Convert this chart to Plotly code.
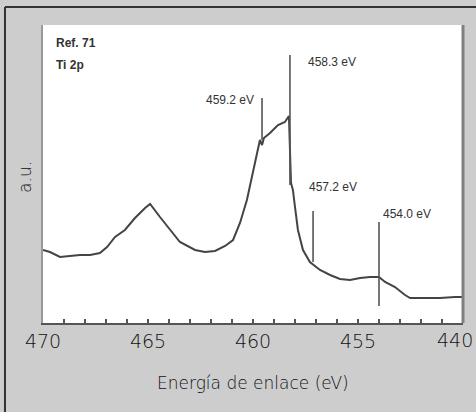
import plotly.graph_objects as go

# Spectrum (binding energy eV, intensity a.u.)
energy = [470.0, 469.67, 469.19, 468.71, 468.24, 467.76, 467.29, 466.95, 466.57, 466.10,
          465.62, 465.14, 464.90, 464.43, 463.95, 463.48, 462.76, 462.29, 461.81, 461.33,
          460.95, 460.62, 460.29, 460.00, 459.76, 459.67, 459.57, 459.48, 459.19, 458.81,
          458.48, 458.29, 458.19, 458.10, 458.00, 457.86, 457.62, 457.29, 456.81, 456.33,
          455.86, 455.38, 454.90, 454.43, 454.00, 453.71, 453.24, 452.76, 452.52, 452.05,
          451.10, 450.38, 450.0]
intensity = [73, 71, 66, 67, 68, 68, 70, 76, 86, 93,
             105, 115, 119, 106, 93, 81, 73, 71, 72, 77,
             83, 100, 123, 150, 173, 183, 178, 185, 190, 198,
             201, 207, 140, 133, 116, 93, 73, 61, 53, 48,
             44, 43, 45, 46, 46, 41, 36, 28, 25, 25,
             25, 26, 26]

# Peak markers
mark_energy = [459.57, 458.24, 457.14, 454.0]
mark_top = [225, 268, 112, 101]
mark_bottom = [183, 138, 61, 17]
mark_labels = ["459.2 eV", "458.3 eV", "457.2 eV", "454.0 eV"]
label_x = [459.85, 457.5, 457.45, 453.9]
label_y = [223, 261, 136, 109]
label_anchor = ["right", "left", "left", "left"]

tick_vals = list(range(470, 450, -1))
tick_text = ["470", "", "", "", "", "465", "", "", "", "", "460", "", "", "", "", "455", "", "", "", ""]
last_tick_val = 450
last_tick_text = "440"

axis_font = "DejaVu Sans"
axis_color = "#111111"

fig = go.Figure()
fig.add_trace(go.Scatter(x=energy, y=intensity, mode="lines",
                         line=dict(color="#444444", width=2), hoverinfo="skip"))
for e, t, b in zip(mark_energy, mark_top, mark_bottom):
    fig.add_trace(go.Scatter(x=[e, e], y=[t, b], mode="lines",
                             line=dict(color="#555555", width=1.6), hoverinfo="skip"))

ann = []
for lx, ly, txt, anc in zip(label_x, label_y, mark_labels, label_anchor):
    ann.append(dict(x=lx, y=ly, xref="x", yref="y", text=txt, showarrow=False,
                    xanchor=anc, yanchor="middle",
                    font=dict(family="Liberation Sans Narrow, Liberation Sans", size=12, color="#333333")))
ann.append(dict(x=469.5, y=280, xref="x", yref="y", text="<b>Ref. 71</b>", showarrow=False,
                xanchor="left", yanchor="middle",
                font=dict(family="Liberation Sans Narrow, Liberation Sans", size=12, color="#333333")))
ann.append(dict(x=469.5, y=258, xref="x", yref="y", text="<b>Ti 2p</b>", showarrow=False,
                xanchor="left", yanchor="middle",
                font=dict(family="Liberation Sans Narrow, Liberation Sans", size=12, color="#333333")))
ann.append(dict(x=last_tick_val, y=0, xref="x", yref="paper", text=last_tick_text, showarrow=False,
                xanchor="center", yanchor="top", xshift=-8, yshift=-4,
                font=dict(family=axis_font, size=19, color=axis_color, weight=200)))
ann.append(dict(x=0.5, y=-0.2, xref="paper", yref="paper", text="Energía de enlace (eV)",
                showarrow=False, xanchor="center", yanchor="middle",
                font=dict(family=axis_font, size=17, color=axis_color, weight=200)))
ann.append(dict(x=-0.043, y=0.49, xref="paper", yref="paper", text="a.u.", textangle=-90,
                showarrow=False, xanchor="center", yanchor="middle",
                font=dict(family=axis_font, size=17, color=axis_color, weight=200)))

shapes = [
    dict(type="line", xref="paper", yref="paper", x0=-0.0905, x1=-0.0905, y0=-0.3, y1=1.0604,
         line=dict(color="#333333", width=2)),
    dict(type="line", xref="paper", yref="paper", x0=-0.0905, x1=1.04, y0=1.0604, y1=1.0604,
         line=dict(color="#333333", width=2)),
    dict(type="line", xref="paper", yref="paper", x0=1.0, x1=1.0, y0=0, y1=1,
         line=dict(color="#808080", width=3)),
]

fig.update_layout(
    width=476, height=412,
    margin=dict(l=43, r=13, t=25, b=89),
    paper_bgcolor="#cdcdcd", plot_bgcolor="#ffffff",
    showlegend=False,
    annotations=ann, shapes=shapes,
    xaxis=dict(range=[470, 450], tickmode="array", tickvals=tick_vals, ticktext=tick_text,
               ticks="inside", ticklen=4, tickwidth=1.5, tickcolor="#555555",
               showline=True, linecolor="#555555", linewidth=2, mirror=False,
               showgrid=False, zeroline=False,
               tickfont=dict(family=axis_font, size=19, color=axis_color, weight=200)),
    yaxis=dict(range=[0, 298], showticklabels=False, ticks="", showgrid=False, zeroline=False,
               showline=True, linecolor="#999999", linewidth=2, mirror=False),
)

fig.write_html("out.html")
